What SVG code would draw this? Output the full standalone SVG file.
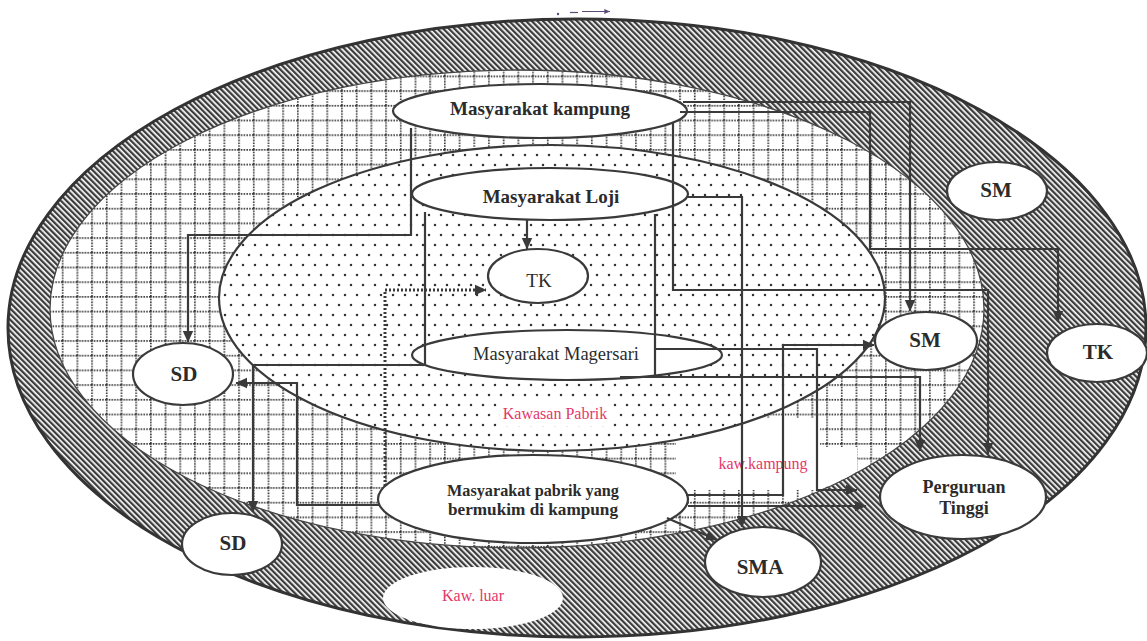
<svg xmlns="http://www.w3.org/2000/svg" width="1147" height="641" viewBox="0 0 1147 641">
  <style>
    .node { fill: #ffffff; stroke: #3a3a3a; stroke-width: 2.2; }
    .lbl { font-family: "Liberation Serif", "Times New Roman", serif; font-weight: bold; fill: #2b2b2b; text-anchor: middle; }
    .lblr { font-family: "Liberation Serif", "Times New Roman", serif; fill: #2b2b2b; text-anchor: middle; }
    .area { font-family: "Liberation Serif", "Times New Roman", serif; fill: #e3386a; text-anchor: middle; font-size: 16px; }
    .con { fill: none; stroke: #3a3a3a; stroke-width: 2.2; }
    .arr { marker-end: url(#ah); }
    .dash { fill: none; stroke: #3a3a3a; stroke-width: 3; stroke-dasharray: 2 2; }
  </style>
  <defs>
    <pattern id="hatch" width="4" height="4" patternUnits="userSpaceOnUse" patternTransform="rotate(-45)">
      <rect width="4" height="4" fill="#ffffff"/>
      <rect width="2.3" height="4" fill="#3c3c3c"/>
    </pattern>
    <pattern id="grid" width="14.7" height="14.7" patternUnits="userSpaceOnUse" x="3" y="2">
      <rect width="14.7" height="14.7" fill="#ffffff"/>
      <line x1="0.8" y1="0" x2="0.8" y2="14.7" stroke="#333333" stroke-width="1.7" stroke-dasharray="1.5 1.25"/>
      <line x1="0" y1="0.8" x2="14.7" y2="0.8" stroke="#333333" stroke-width="1.7" stroke-dasharray="1.5 1.25"/>
    </pattern>
    <pattern id="dots" width="12" height="20" patternUnits="userSpaceOnUse">
      <rect width="12" height="20" fill="#ffffff"/>
      <circle cx="3" cy="5" r="1.25" fill="#333333"/>
      <circle cx="9" cy="15" r="1.25" fill="#333333"/>
    </pattern>
    <clipPath id="kampungClip">
      <ellipse cx="517" cy="309" rx="466" ry="238"/>
    </clipPath>
    <marker id="ah" viewBox="0 0 10 10" refX="9.5" refY="5" markerWidth="12" markerHeight="12" markerUnits="userSpaceOnUse" orient="auto">
      <path d="M0,0.5 L10,5 L0,9.5 z" fill="#3a3a3a"/>
    </marker>
    <marker id="ahs" viewBox="0 0 10 10" refX="9.5" refY="5" markerWidth="6" markerHeight="6" markerUnits="userSpaceOnUse" orient="auto">
      <path d="M0,1 L10,5 L0,9 z" fill="#5a4a78"/>
    </marker>
  </defs>

  <rect width="1147" height="641" fill="#ffffff"/>

  <!-- zones: outer ring, kampung zone, factory zone -->
  <g id="zones">
    <ellipse id="kaw-luar" cx="577" cy="328" rx="569" ry="309" fill="url(#hatch)" stroke="#333333" stroke-width="3"/>
    <ellipse cx="473" cy="598" rx="90" ry="31" fill="#ffffff"/>
    <ellipse id="kaw-kampung" cx="517" cy="309" rx="467" ry="239" fill="url(#grid)" stroke="#444444" stroke-width="1.3"/>
    <g clip-path="url(#kampungClip)" fill="#ffffff">
      <rect x="676" y="418" width="144" height="72"/>
      <rect x="817" y="447" width="40" height="43"/>
    </g>
    <ellipse id="kawasan-pabrik" cx="552" cy="298" rx="333" ry="153" fill="url(#dots)" stroke="#3a3a3a" stroke-width="2.2"/>
    <rect x="500" y="400" width="112" height="26" fill="#ffffff"/>
  </g>

  <g id="zone-labels">
    <text class="area" x="555" y="419">Kawasan Pabrik</text>
    <text class="area" x="763" y="469">kaw.kampung</text>
    <text class="area" x="473" y="601">Kaw. luar</text>
  </g>

  <!-- communities -->
  <g id="masyarakat-kampung">
    <ellipse class="node" cx="540" cy="111" rx="147" ry="27"/>
    <text class="lbl" x="540" y="115" font-size="19">Masyarakat kampung</text>
  </g>
  <g id="masyarakat-loji">
    <ellipse class="node" cx="550" cy="194" rx="138" ry="26"/>
    <text class="lbl" x="551" y="203" font-size="19">Masyarakat Loji</text>
  </g>
  <g id="masyarakat-magersari">
    <ellipse class="node" cx="567" cy="355" rx="155" ry="25"/>
    <text class="lblr" x="556" y="360" font-size="18.5">Masyarakat Magersari</text>
  </g>
  <g id="masyarakat-pabrik">
    <ellipse class="node" cx="533" cy="499" rx="155" ry="44"/>
    <text class="lbl" x="533" y="496" font-size="16.2">Masyarakat pabrik yang</text>
    <text class="lbl" x="533" y="515" font-size="17.2">bermukim di kampung</text>
  </g>

  <!-- schools -->
  <g id="tk-pabrik">
    <ellipse class="node" cx="538" cy="276" rx="50" ry="27"/>
    <text class="lblr" x="539" y="287" font-size="19">TK</text>
  </g>
  <g id="sd-kampung">
    <ellipse class="node" cx="183" cy="374" rx="50" ry="31"/>
    <text class="lbl" x="184" y="381" font-size="21">SD</text>
  </g>
  <g id="sd-luar">
    <ellipse class="node" cx="232" cy="544" rx="50" ry="31"/>
    <text class="lbl" x="233" y="550" font-size="21">SD</text>
  </g>
  <g id="sm-luar">
    <ellipse class="node" cx="997" cy="191" rx="50" ry="29"/>
    <text class="lbl" x="996" y="197" font-size="21">SM</text>
  </g>
  <g id="sm-kampung">
    <ellipse class="node" cx="926" cy="341" rx="51" ry="29"/>
    <text class="lbl" x="925" y="347" font-size="21">SM</text>
  </g>
  <g id="tk-luar">
    <ellipse class="node" cx="1097" cy="353" rx="50" ry="29"/>
    <text class="lbl" x="1098" y="359" font-size="21">TK</text>
  </g>
  <g id="sma">
    <ellipse class="node" cx="763" cy="562" rx="58" ry="35"/>
    <text class="lbl" x="760" y="574" font-size="21">SMA</text>
  </g>
  <g id="perguruan-tinggi">
    <ellipse class="node" cx="963" cy="497" rx="83" ry="42"/>
    <text class="lbl" x="964" y="493" font-size="18">Perguruan</text>
    <text class="lbl" x="964" y="514" font-size="18">Tinggi</text>
  </g>

  <!-- connectors -->
  <g id="connectors">
    <path class="con arr" d="M411,128 V235 H188 V342"/>
    <path class="con arr" d="M683,102 H910 V311"/>
    <path class="con arr" d="M680,112 H870 V249 H1058 V322"/>
    <path class="con arr" d="M673,123 V290 H988 V454"/>
    <path class="con arr" d="M527,220 V249"/>
    <path class="con arr" d="M425,212 V365 H253 V512"/>
    <path class="con" d="M655,214 V378"/>
    <path class="con arr" d="M688,197 H742 V527"/>
    <path class="con arr" d="M655,349 H817 V490 H857"/>
    <path class="con arr" d="M686,495 H783 V345 H874"/>
    <path class="con arr" d="M688,506 H866"/>
    <path class="con arr" d="M620,377 H920 V451"/>
    <path class="con arr" d="M380,505 H297 V383 H236"/>
    <path class="con arr" d="M667,518 L717,540"/>
    <path class="dash arr" d="M385,486 V290 H486"/>
    <g id="mark">
      <circle cx="558" cy="14" r="1.2" fill="#5a4a78"/>
      <path d="M570,12.5 H578" stroke="#5a4a78" stroke-width="1.2" fill="none"/>
      <path d="M582,11.5 H610" stroke="#5a4a78" stroke-width="1" fill="none" marker-end="url(#ahs)"/>
    </g>
  </g>
</svg>
